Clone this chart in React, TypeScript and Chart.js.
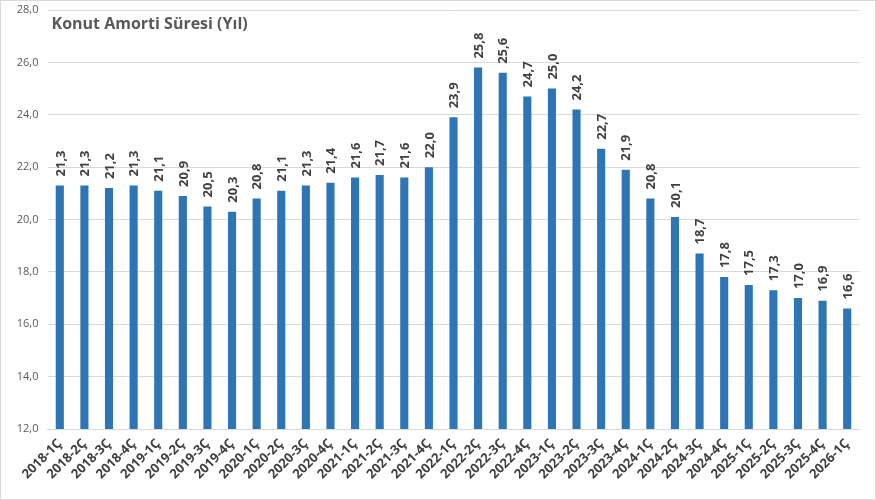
import React, { useEffect, useRef } from "react";
import { Chart, registerables } from "chart.js";

Chart.register(...registerables);

const categories = [
  "2018-1Ç", "2018-2Ç", "2018-3Ç", "2018-4Ç",
  "2019-1Ç", "2019-2Ç", "2019-3Ç", "2019-4Ç",
  "2020-1Ç", "2020-2Ç", "2020-3Ç", "2020-4Ç",
  "2021-1Ç", "2021-2Ç", "2021-3Ç", "2021-4Ç",
  "2022-1Ç", "2022-2Ç", "2022-3Ç", "2022-4Ç",
  "2023-1Ç", "2023-2Ç", "2023-3Ç", "2023-4Ç",
  "2024-1Ç", "2024-2Ç", "2024-3Ç", "2024-4Ç",
  "2025-1Ç", "2025-2Ç", "2025-3Ç", "2025-4Ç",
  "2026-1Ç",
];

const amortiYears = [
  21.3, 21.3, 21.2, 21.3,
  21.1, 20.9, 20.5, 20.3,
  20.8, 21.1, 21.3, 21.4,
  21.6, 21.7, 21.6, 22.0,
  23.9, 25.8, 25.6, 24.7,
  25.0, 24.2, 22.7, 21.9,
  20.8, 20.1, 18.7, 17.8,
  17.5, 17.3, 17.0, 16.9,
  16.6,
];

const title = "Konut Amorti Süresi (Yıl)";
const yMin = 12;
const yMax = 28;
const yStep = 2;

const FONT = "'Open Sans', sans-serif";
const fmt = (v: number) => v.toFixed(1).replace(".", ",");

// Vertical value labels above each bar
const valueLabels = {
  id: "valueLabels",
  afterDatasetsDraw(chart: any) {
    const { ctx } = chart;
    const meta = chart.getDatasetMeta(0);
    const data = chart.data.datasets[0].data as number[];
    ctx.save();
    ctx.font = `bold 13px ${FONT}`;
    ctx.fillStyle = "#404040";
    ctx.textAlign = "left";
    ctx.textBaseline = "middle";
    meta.data.forEach((bar: any, i: number) => {
      ctx.save();
      ctx.translate(bar.x + 1, bar.y - 9);
      ctx.rotate(-Math.PI / 2);
      ctx.fillText(fmt(data[i]), 0, 0);
      ctx.restore();
    });
    ctx.restore();
  },
};

// Chart heading drawn inside the plot area, top-left
const chartTitle = {
  id: "chartTitle",
  afterDraw(chart: any) {
    const { ctx, chartArea } = chart;
    ctx.save();
    ctx.font = `bold 16px ${FONT}`;
    ctx.fillStyle = "#595959";
    ctx.textAlign = "left";
    ctx.textBaseline = "middle";
    ctx.fillText(title, chartArea.left + 4, 23);
    ctx.restore();
  },
};

export default function App() {
  const ref = useRef<HTMLCanvasElement | null>(null);

  useEffect(() => {
    if (!ref.current) return;
    const chart = new Chart(ref.current, {
      type: "bar",
      data: {
        labels: categories,
        datasets: [
          {
            data: amortiYears,
            backgroundColor: "#2E75B6",
            barPercentage: 0.33,
            categoryPercentage: 1,
          },
        ],
      },
      options: {
        animation: false,
        responsive: false,
        maintainAspectRatio: false,
        layout: { padding: { top: 9, right: 15.5, left: 0, bottom: 0 } },
        plugins: {
          legend: { display: false },
          tooltip: { enabled: false },
          title: { display: false },
        },
        scales: {
          x: {
            grid: { display: false, drawTicks: false },
            border: { color: "#d9d9d9", width: 1 },
            ticks: {
              minRotation: 45,
              maxRotation: 45,
              autoSkip: false,
              padding: 7,
              color: "#404040",
              font: { family: FONT, size: 13, weight: "bold" },
            },
            afterFit(scale: any) {
              scale.height = 70;
            },
          },
          y: {
            min: yMin,
            max: yMax,
            grid: { color: "#d9d9d9", drawTicks: false },
            border: { display: false },
            ticks: {
              stepSize: yStep,
              padding: 9,
              color: "#595959",
              font: { family: FONT, size: 11 },
              callback: (v: any) => fmt(Number(v)),
            },
            afterFit(scale: any) {
              scale.width = 46.5;
              scale.paddingTop = 0;
              scale.paddingBottom = 0;
            },
          },
        },
      },
      plugins: [valueLabels, chartTitle],
    });
    return () => chart.destroy();
  }, []);

  return (
    <div
      style={{
        position: "fixed",
        left: 0,
        top: 0,
        width: 874,
        height: 498,
        border: "1px solid #d9d9d9",
        background: "#fff",
      }}
    >
      <canvas ref={ref} width={874} height={498} style={{ display: "block" }} />
    </div>
  );
}
